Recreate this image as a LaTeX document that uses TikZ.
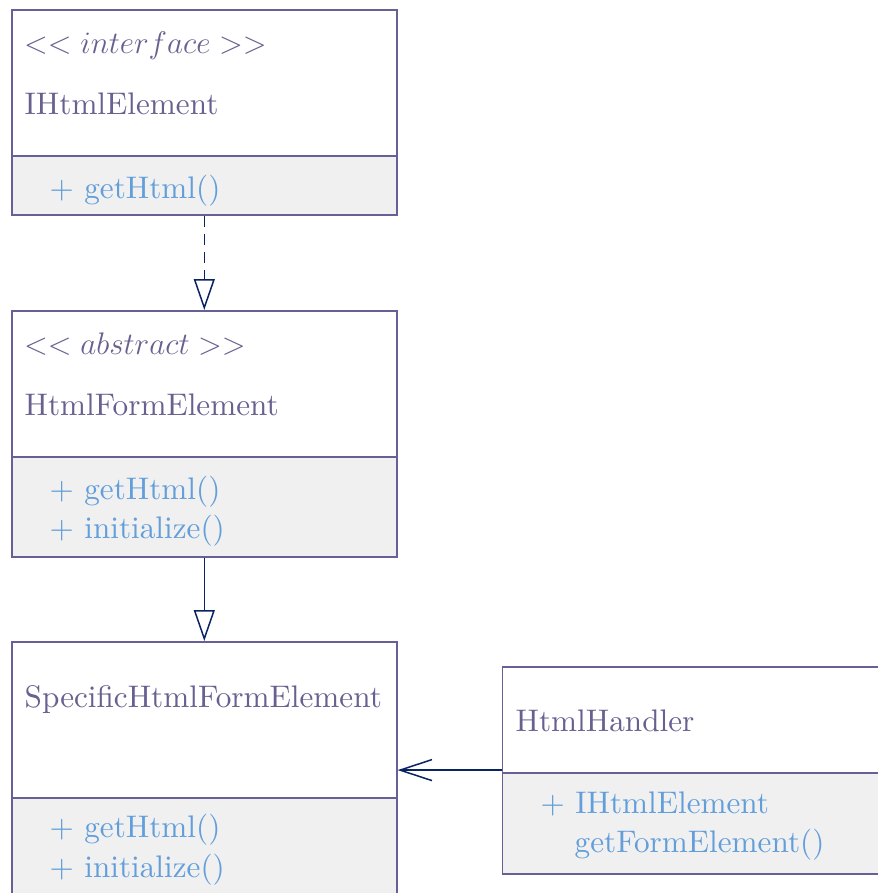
\RequirePackage{fix-cm}
\documentclass[tikz,border=0pt]{standalone}
\usepackage{fontspec}
\setmainfont{lmroman10-regular.otf}[ItalicFont=lmroman10-italic.otf]
\usetikzlibrary{arrows.meta}
\definecolor{titlecol}{RGB}{103,97,143}
\definecolor{bordercol}{RGB}{103,96,150}
\definecolor{methcol}{RGB}{98,158,218}
\definecolor{methfill}{RGB}{240,240,240}
\definecolor{arrowcol}{RGB}{10,36,99}
\tikzset{
  classtop/.style={draw=bordercol, fill=white, line width=1.6pt, inner sep=0pt, anchor=north west, minimum width=385pt},
  classbot/.style={draw=bordercol, fill=methfill, line width=1.6pt, inner sep=0pt, anchor=north west, minimum width=385pt},
  txt/.style={inner sep=0pt, anchor=base west, font=\fontsize{31.2}{36}\selectfont},
  titletxt/.style={txt, text=titlecol},
  methtxt/.style={txt, text=methcol},
  conn/.style={draw=arrowcol, line width=1.5pt},
  realize/.style={conn, dash pattern=on 11pt off 7pt, -{Triangle[open, length=31pt, width=21pt, fill=white, line width=1.5pt]}},
  inherit/.style={conn, -{Triangle[open, length=31pt, width=21pt, fill=white, line width=1.5pt]}},
  assoc/.style={conn, -{Straight Barb[length=32pt, width=21pt, line width=1.5pt]}}
}
\begin{document}
\begin{tikzpicture}[x=1pt, y=-1pt]
\useasboundingbox (0,0) rectangle (877,893);
% IHtmlElement
\node[classtop, minimum height=146pt] (c1top) at (11,9) {};
\node[classbot, minimum height=59pt] (c1bot) at (11,155) {};
\node[titletxt] (c1st) at (24,54) {$<< interface >>$};
\node[titletxt] (c1name) at (24.5,115) {IHtmlElement};
\node[methtxt] (c1m1) at (49.5,198.5) {+ getHtml()};
% HtmlFormElement
\node[classtop, minimum height=146pt] (c2top) at (11,310) {};
\node[classbot, minimum height=100pt] (c2bot) at (11,456) {};
\node[titletxt] (c2st) at (24,354.5) {$<< abstract >>$};
\node[titletxt] (c2name) at (24.5,415.5) {HtmlFormElement};
\node[methtxt] (c2m1) at (49.5,499) {+ getHtml()};
\node[methtxt] (c2m2) at (49.5,538.5) {+ initialize()};
% SpecificHtmlFormElement
\node[classtop, minimum height=156pt] (c3top) at (11,641) {};
\node[classbot, minimum height=120pt] (c3bot) at (11,797) {};
\node[titletxt] (c3name) at (24.5,707.5) {SpecificHtmlFormElement};
\node[methtxt] (c3m1) at (49.5,837.5) {+ getHtml()};
\node[methtxt] (c3m2) at (49.5,877.5) {+ initialize()};
% HtmlHandler
\node[classtop, minimum width=400pt, minimum height=106pt] (c4top) at (501.5,666) {};
\node[classbot, minimum width=400pt, minimum height=101pt] (c4bot) at (501.5,772) {};
\node[titletxt] (c4name) at (515.5,731.5) {HtmlHandler};
\node[methtxt] (c4m1) at (540.5,813) {+ IHtmlElement};
\node[methtxt] (c4m2) at (574.5,852.5) {getFormElement()};
% connectors
\draw[realize] (c1bot.south) -- (c2top.north);
\draw[inherit] (c2bot.south) -- (c3top.north);
\draw[assoc] ([yshift=3.5pt]c4top.south west) -- ([yshift=3.5pt]c4top.south west -| c3top.east);
\end{tikzpicture}
\end{document}
